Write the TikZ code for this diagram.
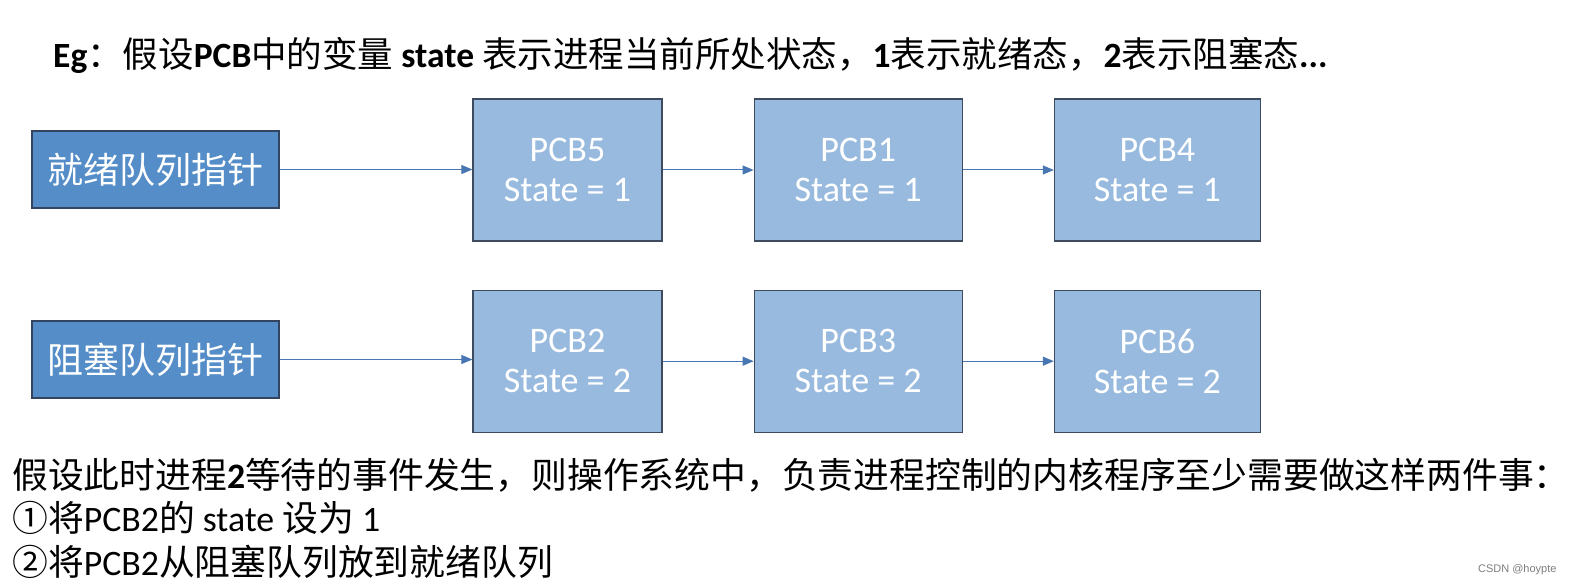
\documentclass[tikz,border=0pt]{standalone}
\usepackage{fontspec}
\setmainfont{Carlito}
\newfontfamily\cjk{Noto Sans CJK SC}
\newfontfamily\marksans{Liberation Sans}
\usetikzlibrary{positioning,arrows.meta}
\definecolor{queueFill}{RGB}{84,141,199}
\definecolor{queueBorder}{RGB}{50,68,96}
\definecolor{pcbFill}{RGB}{152,186,222}
\definecolor{pcbBorder}{RGB}{62,74,94}
\definecolor{linkBlue}{RGB}{72,118,178}
\definecolor{markGray}{RGB}{125,125,125}
\newcommand\zh[1]{{\cjk #1}}

\tikzset{
  queuebox/.style={draw=queueBorder, fill=queueFill, line width=1.2pt,
    minimum width=247pt, minimum height=77pt, inner sep=0pt, text=white,
    font=\cjk\fontsize{36}{38}\selectfont},
  pcbbox/.style={draw=pcbBorder, fill=pcbFill, line width=1.2pt,
    minimum height=142pt, inner sep=0pt, text=white, align=center,
    font=\fontsize{36}{40}\selectfont},
  link/.style={draw=linkBlue, line width=1pt, -{Triangle[length=11pt,width=9pt]}},
  line/.style={anchor=west, inner sep=0pt, font=\fontsize{35.8}{38}\selectfont},
}

\begin{document}
\begin{tikzpicture}[x=1pt, y=-1pt]
  \useasboundingbox (0,0) rectangle (1573,588);

  % heading
  \node[line, font=\fontsize{35.5}{38}\selectfont] (head) at (53,55)
    {\textbf{Eg}\zh{：假设}\textbf{PCB}\zh{中的变量} \textbf{state} \zh{表示进程当前所处状态，}\textbf{1}\zh{表示就绪态，}\textbf{2}\zh{表示阻塞态}\textbf{...}};

  % ready queue
  \node[queuebox] (readyq) at (155.5,169.5) {就绪队列指针};
  \node[pcbbox, minimum width=189pt] (pcb5) at (567.5,170) {PCB5\\State = 1};
  \node[pcbbox, minimum width=208pt, right=91pt of pcb5] (pcb1) {PCB1\\State = 1};
  \node[pcbbox, minimum width=206pt, right=91pt of pcb1] (pcb4) {PCB4\\State = 1};

  % blocked queue
  \node[queuebox] (blockq) at (155.5,359.5) {阻塞队列指针};
  \node[pcbbox, minimum width=189pt, below=48pt of pcb5] (pcb2) {PCB2\\State = 2};
  \node[pcbbox, minimum width=208pt, below=48pt of pcb1] (pcb3) {PCB3\\State = 2};
  \node[pcbbox, minimum width=206pt, below=48pt of pcb4] (pcb6) {PCB6\\State = 2};

  \draw[link] (readyq.east) -- (readyq.east -| pcb5.west);
  \draw[link] (pcb5) -- (pcb1);
  \draw[link] (pcb1) -- (pcb4);
  \draw[link] (blockq.east) -- (blockq.east -| pcb2.west);
  \draw[link] (pcb2) -- (pcb3);
  \draw[link] (pcb3) -- (pcb6);

  % what the kernel has to do
  \node[line] (step1) at (12,475)
    {\zh{假设此时进程}\textbf{2}\zh{等待的事件发生，则操作系统中，负责进程控制的内核程序至少需要做这样两件事：}};
  \node[line] (step2) at (12,518) {\zh{①将}PCB2\zh{的} state \zh{设为} 1};
  \node[line] (step3) at (12,562) {\zh{②将}PCB2\zh{从阻塞队列放到就绪队列}};

  \node[anchor=east, text=markGray, font=\marksans\fontsize{11}{12}\selectfont] (mark) at (1560,570) {CSDN @hoypte};
\end{tikzpicture}
\end{document}
